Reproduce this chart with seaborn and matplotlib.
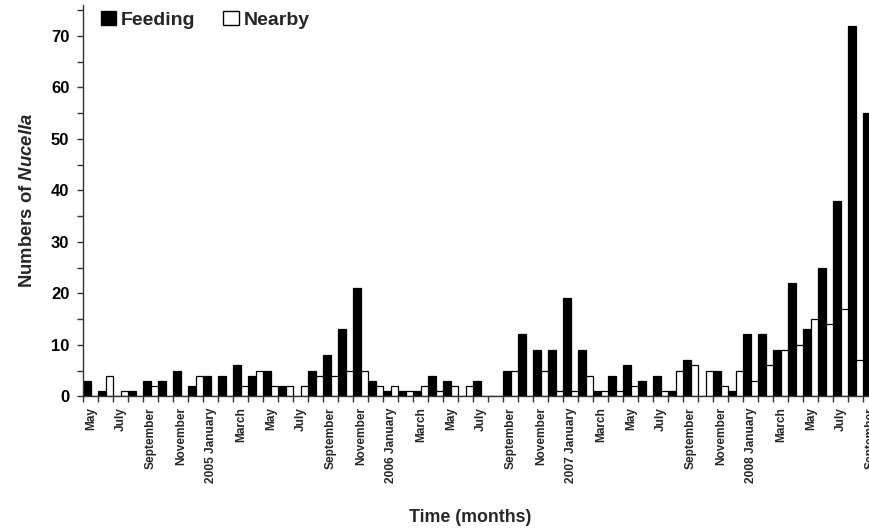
import numpy as np
import pandas as pd
import matplotlib
matplotlib.use("Agg")
import matplotlib.pyplot as plt
import seaborn as sns
from matplotlib.patches import Patch
from matplotlib.ticker import MultipleLocator, FixedLocator

# Months May 2004 .. September 2008
months = [str(p) for p in pd.period_range("2004-05", "2008-09", freq="M")]

feeding = [3, 1, 0, 1, 3, 3, 5, 2, 4, 4,
           6, 4, 5, 2, 0, 5, 8, 13, 21, 3,
           1, 1, 1, 4, 3, 0, 3, 0, 5, 12,
           9, 9, 19, 9, 1, 4, 6, 3, 4, 1,
           7, 0, 5, 1, 12, 12, 9, 22, 13, 25,
           38, 72, 55]
nearby = [0, 4, 1, 0, 2, 0, 0, 4, 0, 0,
          2, 5, 2, 2, 2, 4, 4, 5, 5, 2,
          2, 1, 2, 1, 2, 2, 0, 0, 5, 0,
          5, 1, 1, 4, 1, 1, 2, 0, 1, 5,
          6, 5, 2, 5, 3, 6, 9, 10, 15, 14,
          17, 7, 0]
groups = ["Feeding", "Nearby"]
tick_labels = ["May", "July", "September", "November", "2005 January", "March",
               "May", "July", "September", "November", "2006 January", "March",
               "May", "July", "September", "November", "2007 January", "March",
               "May", "July", "September", "November", "2008 January", "March",
               "May", "July", "September"]

df = pd.DataFrame({
    "month": months * 2,
    "group": [groups[0]] * len(months) + [groups[1]] * len(months),
    "count": feeding + nearby,
})

sns.set_style("ticks")
plt.rcParams['font.family'] = ['Liberation Sans', 'DejaVu Sans']
plt.rcParams['mathtext.fontset'] = 'custom'
plt.rcParams['mathtext.it'] = 'Liberation Sans:italic:bold'
plt.rcParams['mathtext.rm'] = 'Liberation Sans:bold'

fig = plt.figure(figsize=(8.7, 5.3), dpi=100)
ax = fig.add_axes([0.0957, 0.2523, 0.9138, 0.7383])

sns.barplot(data=df, x="month", y="count", hue="group", hue_order=groups,
            order=months, palette={"Feeding": "black", "Nearby": "white"},
            saturation=1, width=1.0, edgecolor="black", linewidth=0.9,
            errorbar=None, legend=False, ax=ax)

ax.set_xlim(-0.5, len(months) - 0.5)
ax.set_ylim(0, 76)
sns.despine(ax=ax)
for s in ["left", "bottom"]:
    ax.spines[s].set_linewidth(1.0)
    ax.spines[s].set_color("#333333")

ax.yaxis.set_major_locator(MultipleLocator(10))
ax.yaxis.set_minor_locator(MultipleLocator(5))
ax.set_yticks(range(0, 71, 10))
ax.tick_params(axis="y", which="both", direction="out", length=4, width=1, pad=6,
               labelsize=12, colors="#333333", labelcolor="black")
for t in ax.get_yticklabels():
    t.set_fontweight("bold")

ax.xaxis.set_major_locator(FixedLocator(list(range(0, len(months), 2))))
ax.set_xticklabels(tick_labels, rotation=90, fontsize=8.6, fontweight="bold")
ax.xaxis.set_minor_locator(FixedLocator(list(np.arange(-0.5, len(months), 1.0))))
ax.tick_params(axis="x", which="major", length=0, pad=8)
ax.tick_params(axis="x", which="minor", direction="out", length=4, width=1, colors="#333333")

ax.set_xlabel("")
ax.set_ylabel(r"Numbers of $\it{Nucella}$", fontsize=13.3, fontweight="bold", labelpad=11)
fig.text(470 / 870, 1 - 518 / 530, "Time (months)", ha="center", va="center",
         fontsize=12.8, fontweight="bold")

handles = [Patch(facecolor="black", edgecolor="black", label="Feeding"),
           Patch(facecolor="white", edgecolor="black", label="Nearby")]
ax.legend(handles=handles, loc="upper left", bbox_to_anchor=(0.022, 0.985),
          ncol=2, frameon=False, borderaxespad=0, borderpad=0,
          handlelength=0.78, handleheight=0.78, handletextpad=0.25,
          columnspacing=1.45, prop={"weight": "bold", "size": 14})

fig.savefig("out.png", dpi=100)
